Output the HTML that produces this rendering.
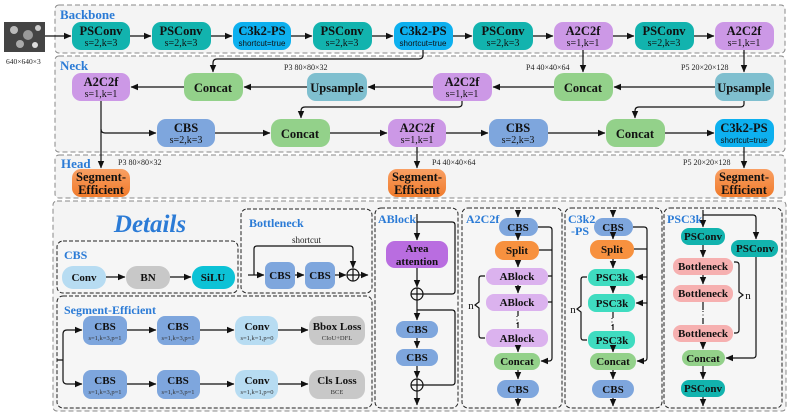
<!DOCTYPE html>
<html><head><meta charset="utf-8"><style>
html,body{margin:0;padding:0;background:#fff;}
svg{display:block;font-family:"Liberation Serif",serif;}
.t{font-weight:bold;font-size:12.5px;text-anchor:middle;fill:#111;}
.det .t{font-size:11px;}
.s{font-size:10px;text-anchor:middle;fill:#111;}
.ss{font-size:6.5px;text-anchor:middle;fill:#333;}
.ti{font-weight:bold;font-size:13px;fill:#2b7bd6;}
.det .ti{font-size:12px;}
.lb{font-size:8px;fill:#222;}
.ln{fill:none;stroke:#111;stroke-width:1.2;}
.pn{fill:#f4f4f4;stroke:#888;stroke-width:1;stroke-dasharray:5,3;}
.sp{fill:#f6f6f6;stroke:#222;stroke-width:1;stroke-dasharray:4,2;}
</style></head><body>
<svg width="788" height="416" viewBox="0 0 788 416" xmlns="http://www.w3.org/2000/svg">
<defs><marker id="a" markerWidth="8" markerHeight="8" refX="7" refY="4" orient="auto" markerUnits="userSpaceOnUse"><path d="M0,0.8 L7.5,4 L0,7.2 Z" fill="#111"/></marker></defs>

<rect class="pn" x="55" y="5" width="730" height="48" rx="4"/>
<rect class="pn" x="55" y="56" width="730" height="96" rx="4"/>
<rect class="pn" x="55" y="155" width="730" height="43" rx="4"/>
<rect class="pn" x="53" y="201" width="733" height="210" rx="4"/>
<text class="ti" x="60" y="19">Backbone</text>
<text class="ti" x="60" y="70">Neck</text>
<text class="ti" x="61" y="168">Head</text>

<rect x="4" y="22" width="41" height="30" fill="#444"/>
<circle cx="14" cy="30" r="4" fill="#bbb"/><circle cx="28" cy="35" r="5" fill="#999"/><circle cx="38" cy="28" r="3" fill="#ccc"/><circle cx="20" cy="44" r="4" fill="#aaa"/><circle cx="35" cy="45" r="3" fill="#ddd"/>
<text class="lb" x="6" y="64" style="font-size:7.5px">640×640×3</text>
<path class="ln" d="M45,36 H71" marker-end="url(#a)"/>

<g>
<rect x="72" y="22" width="58" height="28" rx="9" fill="#12b3ae"/><text class="t" x="101" y="35">PSConv</text><text class="s" x="101" y="46">s=2,k=3</text>
<rect x="152" y="22" width="59" height="28" rx="9" fill="#12b3ae"/><text class="t" x="181" y="35">PSConv</text><text class="s" x="181" y="46">s=2,k=3</text>
<rect x="233" y="22" width="58" height="28" rx="9" fill="#0db0ef"/><text class="t" x="262" y="35">C3k2-PS</text><text class="s" x="262" y="46" style="font-family:'Liberation Sans',sans-serif;font-size:8px">shortcut=true</text>
<rect x="313" y="22" width="59" height="28" rx="9" fill="#12b3ae"/><text class="t" x="342" y="35">PSConv</text><text class="s" x="342" y="46">s=2,k=3</text>
<rect x="394" y="22" width="59" height="28" rx="9" fill="#0db0ef"/><text class="t" x="423" y="35">C3k2-PS</text><text class="s" x="423" y="46" style="font-family:'Liberation Sans',sans-serif;font-size:8px">shortcut=true</text>
<rect x="473" y="22" width="60" height="28" rx="9" fill="#12b3ae"/><text class="t" x="503" y="35">PSConv</text><text class="s" x="503" y="46">s=2,k=3</text>
<rect x="554" y="22" width="59" height="28" rx="9" fill="#cc98e6"/><text class="t" x="583" y="35">A2C2f</text><text class="s" x="583" y="46">s=1,k=1</text>
<rect x="635" y="22" width="59" height="28" rx="9" fill="#12b3ae"/><text class="t" x="664" y="35">PSConv</text><text class="s" x="664" y="46">s=2,k=3</text>
<rect x="715" y="22" width="59" height="28" rx="9" fill="#cc98e6"/><text class="t" x="744" y="35">A2C2f</text><text class="s" x="744" y="46">s=1,k=1</text>
</g>
<path class="ln" d="M130,36 H151" marker-end="url(#a)"/>
<path class="ln" d="M211,36 H232" marker-end="url(#a)"/>
<path class="ln" d="M291,36 H312" marker-end="url(#a)"/>
<path class="ln" d="M372,36 H393" marker-end="url(#a)"/>
<path class="ln" d="M453,36 H472" marker-end="url(#a)"/>
<path class="ln" d="M533,36 H553" marker-end="url(#a)"/>
<path class="ln" d="M613,36 H634" marker-end="url(#a)"/>
<path class="ln" d="M694,36 H714" marker-end="url(#a)"/>

<rect x="72" y="73" width="58" height="28" rx="9" fill="#cc98e6"/><text class="t" x="101" y="86">A2C2f</text><text class="s" x="101" y="97">s=1,k=1</text>
<rect x="184" y="73" width="59" height="28" rx="10" fill="#93d18a"/><text class="t" x="213" y="92">Concat</text>
<rect x="307" y="73" width="60" height="28" rx="9" fill="#7fbfcf"/><text class="t" x="337" y="92">Upsample</text>
<rect x="433" y="73" width="59" height="28" rx="9" fill="#cc98e6"/><text class="t" x="462" y="86">A2C2f</text><text class="s" x="462" y="97">s=1,k=1</text>
<rect x="554" y="73" width="59" height="28" rx="10" fill="#93d18a"/><text class="t" x="583" y="92">Concat</text>
<rect x="715" y="73" width="59" height="28" rx="9" fill="#7fbfcf"/><text class="t" x="744" y="92">Upsample</text>
<text class="lb" x="284" y="70">P3 80×80×32</text>
<text class="lb" x="526" y="70">P4 40×40×64</text>
<text class="lb" x="681" y="70">P5 20×20×128</text>

<path class="ln" d="M423,50 V55 Q423,59 419,59 H217 Q213,59 213,63 V72" marker-end="url(#a)"/>
<path class="ln" d="M583,50 V72" marker-end="url(#a)"/>
<path class="ln" d="M744,50 V72" marker-end="url(#a)"/>
<path class="ln" d="M715,87 H614" marker-end="url(#a)"/>
<path class="ln" d="M554,87 H493" marker-end="url(#a)"/>
<path class="ln" d="M433,87 H368" marker-end="url(#a)"/>
<path class="ln" d="M307,87 H244" marker-end="url(#a)"/>
<path class="ln" d="M184,87 H131" marker-end="url(#a)"/>
<path class="ln" d="M462,101 V104 Q462,107 458,107 H305 Q301,107 301,111 V118" marker-end="url(#a)"/>
<path class="ln" d="M744,101 V104 Q744,107 740,107 H639 Q635,107 635,111 V118" marker-end="url(#a)"/>

<rect x="157" y="119" width="58" height="28" rx="9" fill="#7ea6dd"/><text class="t" x="186" y="132">CBS</text><text class="s" x="186" y="143">s=2,k=3</text>
<rect x="271" y="119" width="59" height="28" rx="10" fill="#93d18a"/><text class="t" x="300" y="138">Concat</text>
<rect x="388" y="119" width="58" height="28" rx="9" fill="#cc98e6"/><text class="t" x="417" y="132">A2C2f</text><text class="s" x="417" y="143">s=1,k=1</text>
<rect x="489" y="119" width="59" height="28" rx="9" fill="#7ea6dd"/><text class="t" x="518" y="132">CBS</text><text class="s" x="518" y="143">s=2,k=3</text>
<rect x="606" y="119" width="59" height="28" rx="10" fill="#93d18a"/><text class="t" x="635" y="138">Concat</text>
<rect x="715" y="119" width="59" height="28" rx="9" fill="#0db0ef"/><text class="t" x="744" y="132">C3k2-PS</text><text class="s" x="744" y="143" style="font-family:'Liberation Sans',sans-serif;font-size:8px">shortcut=true</text>

<path class="ln" d="M101,101 V168" marker-end="url(#a)"/>
<path class="ln" d="M101,129 Q101,133 105,133 H156" marker-end="url(#a)"/>
<path class="ln" d="M215,133 H270" marker-end="url(#a)"/>
<path class="ln" d="M330,133 H387" marker-end="url(#a)"/>
<path class="ln" d="M446,133 H488" marker-end="url(#a)"/>
<path class="ln" d="M548,133 H605" marker-end="url(#a)"/>
<path class="ln" d="M665,133 H714" marker-end="url(#a)"/>
<path class="ln" d="M417,147 V168" marker-end="url(#a)"/>
<path class="ln" d="M744,147 V168" marker-end="url(#a)"/>

<defs><linearGradient id="og" x1="0" y1="0" x2="0" y2="1"><stop offset="0" stop-color="#f9a064"/><stop offset="1" stop-color="#f07a2a"/></linearGradient></defs>
<rect x="72" y="169" width="58" height="28" rx="9" fill="url(#og)"/><text class="t" x="101" y="181">Segment-</text><text class="t" x="101" y="194">Efficient</text>
<rect x="388" y="169" width="58" height="28" rx="9" fill="url(#og)"/><text class="t" x="417" y="181">Segment-</text><text class="t" x="417" y="194">Efficient</text>
<rect x="715" y="169" width="59" height="28" rx="9" fill="url(#og)"/><text class="t" x="744" y="181">Segment-</text><text class="t" x="744" y="194">Efficient</text>
<text class="lb" x="118" y="165">P3 80×80×32</text>
<text class="lb" x="432" y="165">P4 40×40×64</text>
<text class="lb" x="683" y="165">P5 20×20×128</text>

<g class="det">
<text x="150" y="232" style="font-weight:bold;font-style:italic;font-size:25px;fill:#2b7bd6;text-anchor:middle">Details</text>

<rect class="sp" x="57" y="241" width="181" height="52" rx="6"/>
<text class="ti" x="64" y="259">CBS</text>
<rect x="62" y="266" width="44" height="23" rx="11" fill="#b7dcf2"/><text class="t" x="84" y="281">Conv</text>
<rect x="126" y="266" width="44" height="23" rx="11" fill="#c8c8c8"/><text class="t" x="148" y="281">BN</text>
<rect x="192" y="266" width="43" height="23" rx="11" fill="#0cc2d6"/><text class="t" x="213" y="281">SiLU</text>
<path class="ln" d="M106,277 H125" marker-end="url(#a)"/>
<path class="ln" d="M170,277 H191" marker-end="url(#a)"/>

<rect class="sp" x="241" y="209" width="131" height="84" rx="6"/>
<text class="ti" x="249" y="227">Bottleneck</text>
<text class="lb" x="292" y="243" style="font-size:9px">shortcut</text>
<rect x="265" y="262" width="30" height="27" rx="7" fill="#7ea6dd"/><text class="t" x="280" y="279">CBS</text>
<rect x="305" y="262" width="30" height="27" rx="7" fill="#7ea6dd"/><text class="t" x="320" y="279">CBS</text>
<circle cx="353" cy="275" r="6" fill="none" stroke="#111" stroke-width="1.2"/><path class="ln" d="M347,275 H359 M353,269 V281"/>
<path class="ln" d="M248,275 H264" marker-end="url(#a)"/>
<path class="ln" d="M295,275 H304" marker-end="url(#a)"/>
<path class="ln" d="M335,275 H346" marker-end="url(#a)"/>
<path class="ln" d="M359,275 H368" marker-end="url(#a)"/>
<path class="ln" d="M254,275 V249 Q254,246 257,246 H350 Q353,246 353,249 V268" marker-end="url(#a)"/>

<rect class="sp" x="57" y="296" width="315" height="112" rx="6"/>
<text class="ti" x="64" y="314">Segment-Efficient</text>
<rect x="83" y="316" width="44" height="29" rx="8" fill="#7ea6dd"/><text class="t" x="105" y="330">CBS</text><text class="ss" x="105" y="340">s=1,k=3,p=1</text>
<rect x="157" y="316" width="43" height="29" rx="8" fill="#7ea6dd"/><text class="t" x="178" y="330">CBS</text><text class="ss" x="178" y="340">s=1,k=3,p=1</text>
<rect x="235" y="316" width="43" height="29" rx="10" fill="#b7dcf2"/><text class="t" x="257" y="330">Conv</text><text class="ss" x="257" y="340">s=1,k=1,p=0</text>
<rect x="309" y="316" width="56" height="29" rx="10" fill="#c8c8c8"/><text class="t" x="337" y="330">Bbox Loss</text><text class="ss" x="337" y="340">CIoU+DFL</text>
<rect x="83" y="370" width="44" height="29" rx="8" fill="#7ea6dd"/><text class="t" x="105" y="384">CBS</text><text class="ss" x="105" y="394">s=1,k=3,p=1</text>
<rect x="157" y="370" width="43" height="29" rx="8" fill="#7ea6dd"/><text class="t" x="178" y="384">CBS</text><text class="ss" x="178" y="394">s=1,k=3,p=1</text>
<rect x="235" y="370" width="43" height="29" rx="10" fill="#b7dcf2"/><text class="t" x="257" y="384">Conv</text><text class="ss" x="257" y="394">s=1,k=1,p=0</text>
<rect x="309" y="370" width="56" height="29" rx="10" fill="#c8c8c8"/><text class="t" x="337" y="384">Cls Loss</text><text class="ss" x="337" y="394">BCE</text>
<path class="ln" d="M57,360 H63 M63,334 V380"/>
<path class="ln" d="M63,334 Q63,330 67,330 H82" marker-end="url(#a)"/>
<path class="ln" d="M63,380 Q63,384 67,384 H82" marker-end="url(#a)"/>
<path class="ln" d="M127,330 H156" marker-end="url(#a)"/>
<path class="ln" d="M200,330 H234" marker-end="url(#a)"/>
<path class="ln" d="M278,330 H308" marker-end="url(#a)"/>
<path class="ln" d="M127,384 H156" marker-end="url(#a)"/>
<path class="ln" d="M200,384 H234" marker-end="url(#a)"/>
<path class="ln" d="M278,384 H308" marker-end="url(#a)"/>

<rect class="sp" x="375" y="208" width="83" height="200" rx="6"/>
<text class="ti" x="378" y="223">ABlock</text>
<rect x="386" y="241" width="62" height="27" rx="9" fill="#b96de0"/><text class="t" x="417" y="252">Area</text><text class="t" x="417" y="265">attention</text>
<rect x="396" y="321" width="42" height="17" rx="8" fill="#7ea6dd"/><text class="t" x="417" y="333">CBS</text>
<rect x="396" y="349" width="42" height="17" rx="8" fill="#7ea6dd"/><text class="t" x="417" y="361">CBS</text>
<circle cx="417" cy="294" r="6" fill="none" stroke="#111" stroke-width="1.2"/><path class="ln" d="M411,294 H423 M417,288 V300"/>
<circle cx="417" cy="385" r="6" fill="none" stroke="#111" stroke-width="1.2"/><path class="ln" d="M411,385 H423 M417,379 V391"/>
<path class="ln" d="M417,214 V240" marker-end="url(#a)"/>
<path class="ln" d="M417,268 V287" marker-end="url(#a)"/>
<path class="ln" d="M417,300 V320" marker-end="url(#a)"/>
<path class="ln" d="M417,338 V348" marker-end="url(#a)"/>
<path class="ln" d="M417,366 V378" marker-end="url(#a)"/>
<path class="ln" d="M417,391 V405" marker-end="url(#a)"/>
<path class="ln" d="M417,222 H452 Q455,222 455,225 V291 Q455,294 452,294 H423"/>
<path class="ln" d="M417,310 H452 Q455,310 455,313 V382 Q455,385 452,385 H423"/>

<rect class="sp" x="462" y="208" width="100" height="200" rx="6"/>
<text class="ti" x="466" y="223">A2C2f</text>
<rect x="499" y="218" width="39" height="18" rx="9" fill="#7ea6dd"/><text class="t" x="518" y="231">CBS</text>
<rect x="495" y="241" width="44" height="19" rx="9" fill="#f7913f"/><text class="t" x="517" y="254">Split</text>
<rect x="486" y="268" width="62" height="17" rx="8" fill="#dbb2ee"/><text class="t" x="517" y="280">ABlock</text>
<rect x="486" y="294" width="62" height="17" rx="8" fill="#dbb2ee"/><text class="t" x="517" y="306">ABlock</text>
<rect x="486" y="329" width="62" height="18" rx="8" fill="#dbb2ee"/><text class="t" x="517" y="342">ABlock</text>
<rect x="494" y="353" width="46" height="17" rx="8" fill="#93d18a"/><text class="t" x="517" y="365">Concat</text>
<rect x="497" y="380" width="42" height="18" rx="9" fill="#7ea6dd"/><text class="t" x="518" y="393">CBS</text>
<text x="517" y="323" class="s">⋮</text>
<path class="ln" d="M518,210 V217" marker-end="url(#a)"/>
<path class="ln" d="M518,236 V240" marker-end="url(#a)"/>
<path class="ln" d="M518,260 V267" marker-end="url(#a)"/>
<path class="ln" d="M518,285 V293" marker-end="url(#a)"/>
<path class="ln" d="M518,311 V316 M518,322 V328"/>
<path class="ln" d="M518,347 V352" marker-end="url(#a)"/>
<path class="ln" d="M518,370 V379" marker-end="url(#a)"/>
<path class="ln" d="M518,398 V406" marker-end="url(#a)"/>
<path class="ln" d="M538,227 H549 Q552,227 552,230 V358 Q552,361 549,361 H541" marker-end="url(#a)"/>
<path class="ln" d="M539,250 H552 M548,276 H552 M548,302 H552"/>
<path class="ln" d="M485,276 H481 Q479,276 479,279 V302 L475,305 L479,308 V335 Q479,338 481,338 H485"/>
<text class="s" x="471" y="309" style="font-size:11px">n</text>

<rect class="sp" x="565" y="208" width="97" height="200" rx="6"/>
<text class="ti" x="568" y="223">C3k2</text><text class="ti" x="571" y="235">-PS</text>
<rect x="594" y="218" width="39" height="18" rx="9" fill="#7ea6dd"/><text class="t" x="613" y="231">CBS</text>
<rect x="590" y="240" width="44" height="19" rx="9" fill="#f7913f"/><text class="t" x="612" y="253">Split</text>
<rect x="588" y="269" width="47" height="17" rx="8" fill="#3fdcc0"/><text class="t" x="612" y="281">PSC3k</text>
<rect x="588" y="294" width="47" height="18" rx="8" fill="#3fdcc0"/><text class="t" x="612" y="307">PSC3k</text>
<rect x="588" y="331" width="47" height="18" rx="8" fill="#3fdcc0"/><text class="t" x="612" y="344">PSC3k</text>
<rect x="590" y="353" width="46" height="17" rx="8" fill="#93d18a"/><text class="t" x="613" y="365">Concat</text>
<rect x="592" y="380" width="42" height="18" rx="9" fill="#7ea6dd"/><text class="t" x="613" y="393">CBS</text>
<text x="612" y="325" class="s">⋮</text>
<path class="ln" d="M613,210 V217" marker-end="url(#a)"/>
<path class="ln" d="M613,236 V239" marker-end="url(#a)"/>
<path class="ln" d="M613,259 V268" marker-end="url(#a)"/>
<path class="ln" d="M613,286 V293" marker-end="url(#a)"/>
<path class="ln" d="M613,312 V318 M613,324 V330"/>
<path class="ln" d="M613,349 V352" marker-end="url(#a)"/>
<path class="ln" d="M613,370 V379" marker-end="url(#a)"/>
<path class="ln" d="M613,398 V406" marker-end="url(#a)"/>
<path class="ln" d="M633,227 H644 Q647,227 647,230 V358 Q647,361 644,361 H637" marker-end="url(#a)"/>
<path class="ln" d="M634,249 H647"/>
<path class="ln" d="M647,277 H636" marker-end="url(#a)"/>
<path class="ln" d="M647,303 H636" marker-end="url(#a)"/>
<path class="ln" d="M587,277 H583 Q581,277 581,280 V306 L577,309 L581,312 V337 Q581,340 583,340 H587"/>
<text class="s" x="573" y="313" style="font-size:11px">n</text>

<rect class="sp" x="664" y="208" width="118" height="200" rx="6"/>
<text class="ti" x="667" y="223">PSC3k</text>
<rect x="681" y="228" width="44" height="17" rx="8" fill="#12b3ae"/><text class="t" x="703" y="240">PSConv</text>
<rect x="731" y="240" width="47" height="17" rx="8" fill="#12b3ae"/><text class="t" x="755" y="252">PSConv</text>
<rect x="673" y="258" width="60" height="17" rx="8" fill="#f6b0b0"/><text class="t" x="703" y="270">Bottleneck</text>
<rect x="673" y="285" width="60" height="17" rx="8" fill="#f6b0b0"/><text class="t" x="703" y="297">Bottleneck</text>
<rect x="673" y="325" width="60" height="17" rx="8" fill="#f6b0b0"/><text class="t" x="703" y="337">Bottleneck</text>
<rect x="682" y="350" width="43" height="16" rx="8" fill="#93d18a"/><text class="t" x="703" y="362">Concat</text>
<rect x="681" y="380" width="44" height="17" rx="8" fill="#12b3ae"/><text class="t" x="703" y="392">PSConv</text>
<text x="703" y="318" class="s">⋮</text>
<path class="ln" d="M703,210 V227" marker-end="url(#a)"/>
<path class="ln" d="M703,215 H753 Q756,215 756,218 V239" marker-end="url(#a)"/>
<path class="ln" d="M703,245 V257" marker-end="url(#a)"/>
<path class="ln" d="M703,275 V284" marker-end="url(#a)"/>
<path class="ln" d="M703,302 V310 M703,318 V324"/>
<path class="ln" d="M703,342 V349" marker-end="url(#a)"/>
<path class="ln" d="M703,366 V379" marker-end="url(#a)"/>
<path class="ln" d="M703,397 V406" marker-end="url(#a)"/>
<path class="ln" d="M756,257 V355 Q756,358 753,358 H726" marker-end="url(#a)"/>
<path class="ln" d="M734,262 H736 Q739,262 739,265 V292 L743,295 L739,298 V330 Q739,333 736,333 H734"/>
<text class="s" x="748" y="299" style="font-size:11px">n</text>
</g>
</svg>
</body></html>
